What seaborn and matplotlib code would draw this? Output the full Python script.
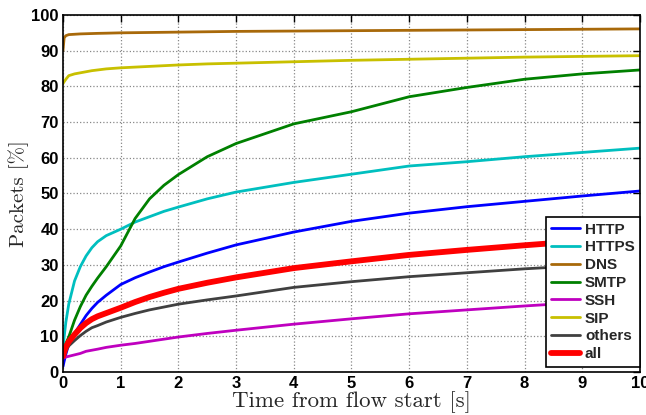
import matplotlib
matplotlib.use("Agg")
import matplotlib.pyplot as plt
import seaborn as sns
import pandas as pd

# time from flow start [s]
t = [0, 0.02, 0.05, 0.1, 0.2, 0.3, 0.4, 0.5, 0.6, 0.75, 1, 1.25, 1.5, 1.75, 2, 2.5, 3, 4, 5, 6, 7, 8, 9, 10]

http = [1.5, 3.0, 5.0, 7.8, 10.8, 13.3, 15.8, 17.8, 19.5, 21.5, 24.5, 26.4, 28.0, 29.5, 30.8, 33.3, 35.6, 39.2, 42.2, 44.5, 46.3, 47.8, 49.3, 50.7]
https = [7.0, 9.8, 14.0, 19.0, 25.5, 29.5, 32.5, 34.8, 36.5, 38.2, 40.0, 42.0, 43.5, 45.0, 46.2, 48.5, 50.4, 53.1, 55.4, 57.7, 58.9, 60.3, 61.5, 62.7]
dns = [90.0, 93.6, 94.2, 94.5, 94.6, 94.7, 94.75, 94.8, 94.85, 94.9, 95.0, 95.05, 95.1, 95.15, 95.2, 95.3, 95.4, 95.5, 95.6, 95.7, 95.8, 95.9, 96.0, 96.1]
smtp = [5.0, 6.5, 8.0, 9.8, 14.5, 18.3, 21.5, 24.0, 26.3, 29.5, 35.3, 43.0, 48.5, 52.3, 55.3, 60.3, 64.0, 69.5, 72.9, 77.1, 79.7, 82.0, 83.5, 84.6]
ssh = [3.8, 4.0, 4.2, 4.4, 4.8, 5.2, 5.8, 6.1, 6.4, 6.9, 7.5, 8.0, 8.6, 9.2, 9.8, 10.8, 11.7, 13.4, 14.9, 16.3, 17.4, 18.5, 19.5, 20.5]
sip = [80.8, 81.3, 82.0, 83.0, 83.5, 83.8, 84.1, 84.4, 84.6, 84.9, 85.2, 85.4, 85.6, 85.8, 86.0, 86.3, 86.5, 86.9, 87.3, 87.6, 87.9, 88.2, 88.4, 88.6]
others = [4.0, 5.0, 6.0, 7.3, 8.8, 10.2, 11.4, 12.4, 13.0, 14.0, 15.3, 16.4, 17.4, 18.2, 19.0, 20.2, 21.3, 23.7, 25.3, 26.7, 27.8, 28.9, 29.8, 30.7]
all_ = [4.4, 5.5, 7.0, 8.5, 10.5, 12.3, 13.7, 14.8, 15.6, 16.5, 18.0, 19.6, 21.0, 22.2, 23.3, 25.0, 26.5, 29.1, 31.0, 32.8, 34.2, 35.5, 36.7, 37.6]

labels = ["HTTP", "HTTPS", "DNS", "SMTP", "SSH", "SIP", "others", "all"]
series = [http, https, dns, smtp, ssh, sip, others, all_]
colors = ["#0000ff", "#00bfbf", "#a8690a", "#008000", "#bf00bf", "#c8c000", "#404040", "#ff0000"]
widths = [2.0, 2.0, 2.0, 2.0, 2.0, 2.0, 2.0, 4.2]

sns.set_style("white")
plt.rcParams["font.family"] = ["Liberation Sans", "DejaVu Sans"]

fig = plt.figure(figsize=(6.46, 4.15), dpi=100)
ax = fig.add_axes([0.0975, 0.1036, 0.8932, 0.8603])

for lab, vals, c, w in zip(labels, series, colors, widths):
    df = pd.DataFrame({"t": t, "p": vals})
    sns.lineplot(data=df, x="t", y="p", color=c, linewidth=w, label=lab, ax=ax)

ax.set_xlim(0, 10)
ax.set_ylim(0, 100)
ax.set_xticks(range(0, 11))
ax.set_yticks(range(0, 101, 10))
ax.grid(True, linestyle=":", color="#888888", linewidth=0.9)
ax.tick_params(direction="in", top=True, right=True, length=5, width=1,
               labelsize=12, pad=3, colors="black")
for lbl in ax.get_xticklabels() + ax.get_yticklabels():
    lbl.set_fontweight("bold")
for s in ax.spines.values():
    s.set_color("black")
    s.set_linewidth(1.2)

ax.set_xlabel("Time from flow start [s]", fontfamily="cmr10", fontsize=16.5, labelpad=0)
ax.set_ylabel("Packets [%]", fontfamily="cmr10", fontsize=15, labelpad=2)

leg = ax.legend(loc="lower right", bbox_to_anchor=(1.0, 0.015), borderaxespad=0,
                fancybox=False, framealpha=1, edgecolor="black",
                prop={"weight": "bold", "size": 11},
                handlelength=1.9, handletextpad=0.3, labelspacing=0.25,
                borderpad=0.35)
leg.get_frame().set_linewidth(1.2)

fig.savefig("out.png", dpi=100)
